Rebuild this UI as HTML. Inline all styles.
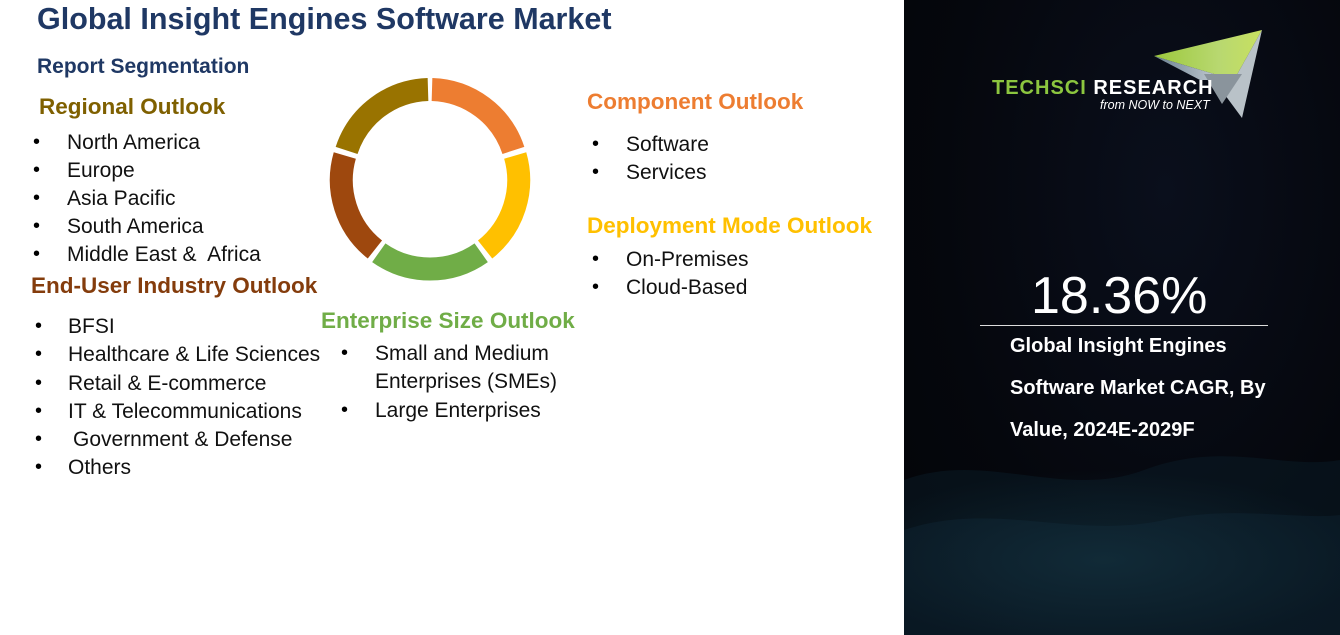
<!DOCTYPE html>
<html><head><meta charset="utf-8"><style>
body{margin:0;width:1340px;height:635px;overflow:hidden;background:#fff;font-family:"Liberation Sans",sans-serif;position:relative}
.t{position:absolute;white-space:nowrap;line-height:1}
.h{font-weight:bold;font-size:22.5px}
.li{font-size:21px;color:#111}
.b{position:absolute;font-size:20px;line-height:1}
#panel{position:absolute;left:904px;top:0;width:436px;height:635px;background:radial-gradient(ellipse at 60% 30%,#0a0f1c 0%,#05070d 60%,#030408 100%);overflow:hidden}
</style></head><body>
<div class="t" style="left:37px;top:4px;font-size:30.5px;font-weight:bold;color:#1F3864">Global Insight Engines Software Market</div>
<div class="t" style="left:37px;top:56px;font-size:21px;font-weight:bold;color:#1F3864">Report Segmentation</div>

<div class="t h" style="left:39px;top:96px;color:#7F6000">Regional Outlook</div>
<div class="b" style="left:33px;top:132px">•</div><div class="t li" style="left:67px;top:132px">North America</div>
<div class="b" style="left:33px;top:160px">•</div><div class="t li" style="left:67px;top:160px">Europe</div>
<div class="b" style="left:33px;top:188px">•</div><div class="t li" style="left:67px;top:188px">Asia Pacific</div>
<div class="b" style="left:33px;top:216px">•</div><div class="t li" style="left:67px;top:216px">South America</div>
<div class="b" style="left:33px;top:244px">•</div><div class="t li" style="left:67px;top:244px">Middle East &amp;&nbsp; Africa</div>

<div class="t h" style="left:31px;top:275px;color:#843C0C">End-User Industry Outlook</div>
<div class="b" style="left:35px;top:316px">•</div><div class="t li" style="left:68px;top:316px">BFSI</div>
<div class="b" style="left:35px;top:344px">•</div><div class="t li" style="left:68px;top:344px">Healthcare &amp; Life Sciences</div>
<div class="b" style="left:35px;top:373px">•</div><div class="t li" style="left:68px;top:373px">Retail &amp; E-commerce</div>
<div class="b" style="left:35px;top:401px">•</div><div class="t li" style="left:68px;top:401px">IT &amp; Telecommunications</div>
<div class="b" style="left:35px;top:429px">•</div><div class="t li" style="left:73px;top:429px">Government &amp; Defense</div>
<div class="b" style="left:35px;top:457px">•</div><div class="t li" style="left:68px;top:457px">Others</div>

<div class="t h" style="left:321px;top:310px;color:#70AD47">Enterprise Size Outlook</div>
<div class="b" style="left:341px;top:343px">•</div><div class="t li" style="left:375px;top:343px">Small and Medium</div>
<div class="t li" style="left:375px;top:371px">Enterprises (SMEs)</div>
<div class="b" style="left:341px;top:400px">•</div><div class="t li" style="left:375px;top:400px">Large Enterprises</div>

<div class="t h" style="left:587px;top:91px;color:#ED7D31">Component Outlook</div>
<div class="b" style="left:592px;top:134px">•</div><div class="t li" style="left:626px;top:134px">Software</div>
<div class="b" style="left:592px;top:162px">•</div><div class="t li" style="left:626px;top:162px">Services</div>

<div class="t h" style="left:587px;top:215px;color:#FFC000">Deployment Mode Outlook</div>
<div class="b" style="left:592px;top:249px">•</div><div class="t li" style="left:626px;top:249px">On-Premises</div>
<div class="b" style="left:592px;top:277px">•</div><div class="t li" style="left:626px;top:277px">Cloud-Based</div>

<svg style="position:absolute;left:0;top:0" width="900" height="635">
<g stroke-width="23" fill="none">
<path d="M432.0,89.5 A88.5,88.5 0 0 1 513.4,150.4" stroke="#ED7D31"/>
<path d="M515.2,155.5 A88.5,88.5 0 0 1 485.1,249.5" stroke="#FFC000"/>
<path d="M481.2,252.7 A88.5,88.5 0 0 1 378.8,252.7" stroke="#70AD47"/>
<path d="M374.9,249.5 A88.5,88.5 0 0 1 344.8,155.5" stroke="#9E480E"/>
<path d="M346.6,150.4 A88.5,88.5 0 0 1 428.0,89.5" stroke="#997300"/>
</g>
</svg>

<div id="panel">
<svg width="436" height="635" style="position:absolute;left:0;top:0">
<defs>
<linearGradient id="lg" x1="0" y1="0" x2="1" y2="0"><stop offset="0" stop-color="#9cc83c"/><stop offset="0.6" stop-color="#b8d870"/><stop offset="1" stop-color="#c8e060"/></linearGradient>
<linearGradient id="lg2" x1="0" y1="0" x2="1" y2="0"><stop offset="0" stop-color="#6a8090"/><stop offset="1" stop-color="#d8dde2"/></linearGradient>
<radialGradient id="w" cx="0.5" cy="0.5" r="0.5"><stop offset="0" stop-color="#1e4a5a" stop-opacity="0.35"/><stop offset="1" stop-color="#1e4a5a" stop-opacity="0"/></radialGradient>
</defs>
<path d="M0,480 C80,450 160,500 240,470 C320,440 380,470 436,460 L436,635 L0,635 Z" fill="#0c1e2a" opacity="0.45"/>
<path d="M0,530 C90,500 170,540 260,520 C330,505 390,520 436,515 L436,635 L0,635 Z" fill="#12293a" opacity="0.35"/>
<ellipse cx="200" cy="560" rx="260" ry="90" fill="url(#w)"/>
<polygon points="250,56 358,30 330,80" fill="url(#lg)"/>
<polygon points="250,56 330,80 296,80 " fill="url(#lg2)"/>
<polygon points="330,80 358,30 338,118 310,80" fill="#b9c2c8"/>
<polygon points="300,74 338,74 318,104" fill="#8a949c"/>
</svg>
<div class="t" style="left:88px;top:78px;font-size:20px;font-weight:bold;color:#8cc63f;letter-spacing:1px">TECHSCI <span style="color:#fff">RESEARCH</span></div>
<div class="t" style="left:196px;top:99px;font-size:12.5px;font-style:italic;color:#fff">from NOW to NEXT</div>
<div class="t" style="left:127px;top:270px;font-size:52px;color:#fff">18.36%</div>
<div style="position:absolute;left:76px;top:325px;width:288px;height:1px;background:#ddd"></div>
<div class="t" style="left:106px;top:325px;font-size:20px;font-weight:bold;color:#fff;line-height:42px">Global Insight Engines<br>Software Market CAGR, By<br>Value, 2024E-2029F</div>
</div>
</body></html>
